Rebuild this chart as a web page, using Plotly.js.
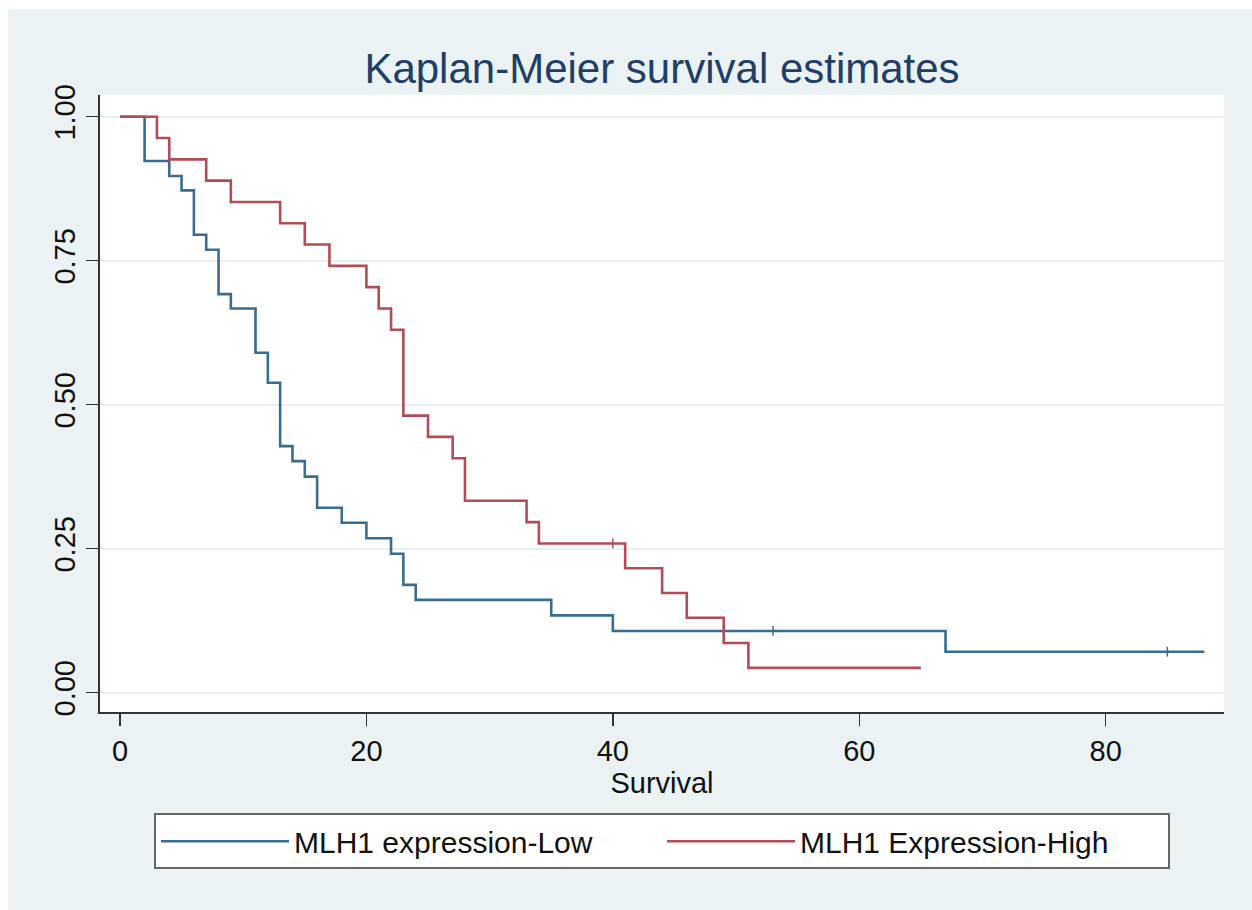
<!DOCTYPE html>
<html>
<head>
<meta charset="utf-8">
<script src="https://cdn.plot.ly/plotly-3.0.1.min.js"></script>
<style>
  html, body { margin: 0; padding: 0; background: #ffffff; overflow: hidden; }
  #chart { position: absolute; left: 8px; top: 9px; width: 1244px; height: 901px; }
</style>
</head>
<body>
<div id="chart"></div>
<script>
// Kaplan-Meier step data (time, survival after the step)
var lowTime  = [0, 2, 4, 5, 6, 7, 8, 9, 11, 12, 13, 14, 15, 16, 18, 20, 22, 23, 24, 35, 40, 67, 88];
var lowSurv  = [1, 0.923, 0.897, 0.872, 0.795, 0.769, 0.692, 0.667, 0.590, 0.538, 0.428, 0.402, 0.375, 0.321, 0.295, 0.268, 0.241, 0.187, 0.161, 0.134, 0.107, 0.071, 0.071];
var highTime = [0, 3, 4, 7, 9, 13, 15, 17, 20, 21, 22, 23, 25, 27, 28, 33, 34, 41, 44, 46, 49, 51, 65];
var highSurv = [1, 0.963, 0.926, 0.889, 0.852, 0.815, 0.778, 0.741, 0.704, 0.667, 0.630, 0.481, 0.444, 0.407, 0.333, 0.296, 0.259, 0.216, 0.173, 0.130, 0.086, 0.043, 0.043];
// censoring marks
var lowCensT  = [53, 85];
var lowCensS  = [0.107, 0.071];
var highCensT = [40];
var highCensS = [0.259];

var seriesNames = ["MLH1 expression-Low", "MLH1 Expression-High"];
var xTicks = [0, 20, 40, 60, 80];
var yTicks = [0, 0.25, 0.5, 0.75, 1];
var yTickText = ["0.00", "0.25", "0.50", "0.75", "1.00"];

var blue = "#386d91";
var red = "#b24c56";

var traces = [
  { x: lowTime, y: lowSurv, type: "scatter", mode: "lines", name: seriesNames[0],
    line: { shape: "hv", color: blue, width: 2.6 } },
  { x: highTime, y: highSurv, type: "scatter", mode: "lines", name: seriesNames[1],
    line: { shape: "hv", color: red, width: 2.6 } },
  { x: lowCensT, y: lowCensS, type: "scatter", mode: "markers", showlegend: false, hoverinfo: "skip",
    marker: { symbol: "line-ns-open", size: 7, color: blue, line: { color: blue, width: 1.5 } } },
  { x: highCensT, y: highCensS, type: "scatter", mode: "markers", showlegend: false, hoverinfo: "skip",
    marker: { symbol: "line-ns-open", size: 7, color: red, line: { color: red, width: 1.5 } } }
];

var font = "Liberation Sans, Arial, Helvetica, sans-serif";

var layout = {
  width: 1244, height: 901,
  paper_bgcolor: "#eaf2f3",
  plot_bgcolor: "#ffffff",
  margin: { l: 92, r: 28, t: 86, b: 198 },
  font: { family: font, color: "#111111", size: 29 },
  title: {
    text: "Kaplan-Meier survival estimates",
    font: { family: font, size: 42, color: "#1f3f66" },
    x: 0.5, xref: "paper", xanchor: "center",
    y: 0.9345, yref: "container", yanchor: "middle"
  },
  xaxis: {
    range: [-1.62, 89.6],
    tickvals: xTicks,
    ticktext: xTicks.map(String),
    ticks: "outside", ticklen: 12, tickwidth: 1.5, tickcolor: "#333333",
    showline: true, linecolor: "#333333", linewidth: 1.8,
    showgrid: false, zeroline: false,
    tickfont: { size: 29, family: font, color: "#111111" },
    title: { text: "Survival", font: { size: 29, family: font, color: "#111111" }, standoff: 6 }
  },
  yaxis: {
    range: [-0.0337, 1.0377],
    tickvals: yTicks,
    ticktext: yTickText,
    tickangle: -90,
    ticks: "outside", ticklen: 12, tickwidth: 1.5, tickcolor: "#333333",
    showline: true, linecolor: "#333333", linewidth: 1.8,
    showgrid: true, gridcolor: "#e6eff1", gridwidth: 2,
    zeroline: false,
    tickfont: { size: 29, family: font, color: "#111111" }
  },
  showlegend: true,
  legend: {
    orientation: "h",
    x: 0.5, xanchor: "center",
    y: -0.164, yanchor: "top",
    bgcolor: "#ffffff",
    bordercolor: "#666666", borderwidth: 2,
    font: { size: 30, family: font, color: "#111111" },
    itemwidth: 128,
    entrywidth: 363, entrywidthmode: "pixels",
    itemclick: false, itemdoubleclick: false
  }
};

Plotly.newPlot("chart", traces, layout, { displayModeBar: false, staticPlot: true });
</script>
</body>
</html>
